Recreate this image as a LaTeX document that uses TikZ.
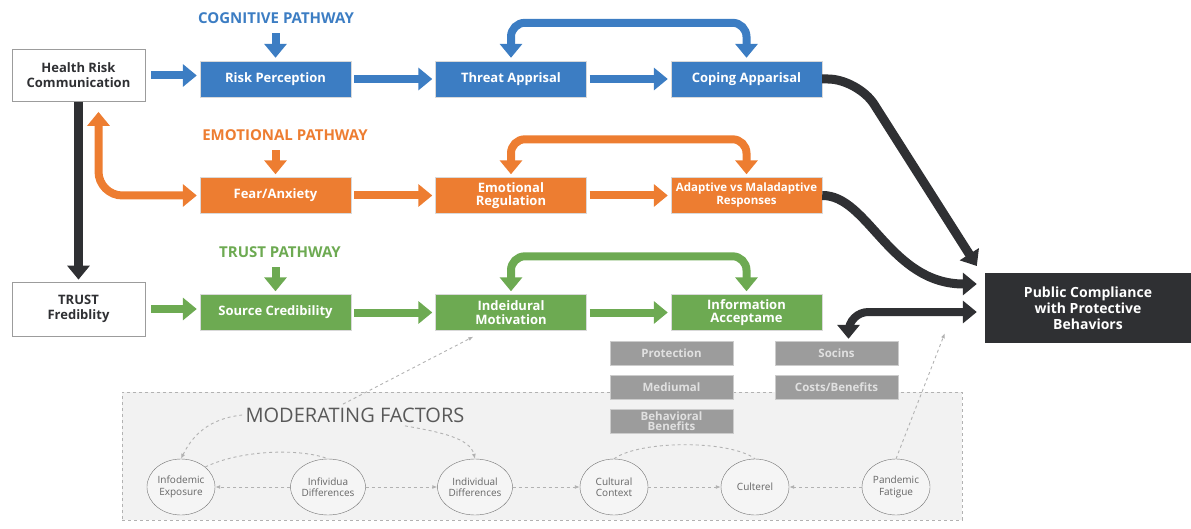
\documentclass[tikz,border=0pt]{standalone}
\usepackage{fontspec}
\setmainfont{Open Sans}
\usepackage{tikz}
\usetikzlibrary{arrows.meta,positioning,shapes.geometric,calc}

\definecolor{cogcolor}{HTML}{3C7DC3}
\definecolor{emocolor}{HTML}{ED7D31}
\definecolor{trucolor}{HTML}{6DAA52}
\definecolor{darkcolor}{HTML}{2F3033}
\definecolor{greycolor}{HTML}{9C9C9C}

\begin{document}
\begin{tikzpicture}[x=1pt,y=-1pt]
    % Styles
    \tikzstyle{input box}=[draw=greycolor,fill=white,text=darkcolor,line width=0.8pt,
      minimum width=133pt,minimum height=52pt,align=center,
      font=\fontsize{13}{15}\selectfont\bfseries]
    \tikzstyle{path box}=[draw=black!15,text=white,minimum width=151pt,minimum height=36pt,
      align=center,inner sep=1pt,font=\fontsize{13}{13.5}\selectfont\bfseries]
    \tikzstyle{path label}=[font=\fontsize{15}{17}\selectfont\bfseries]
    \tikzstyle{grey box}=[fill=greycolor,draw=black!20,text=white!88!black,minimum width=123pt,
      minimum height=24pt,align=center,inner sep=0pt,font=\fontsize{11.5}{10}\selectfont\bfseries]
    \tikzstyle{factor}=[ellipse,draw=black!55,fill=white!96!black,minimum width=68pt,minimum height=56pt,
      inner sep=0pt,align=center,text=black!60,font=\fontsize{10}{11.5}\selectfont]
    \tikzstyle{fat arrow}=[line width=8pt,-{Triangle[width=22pt,length=14pt]}]
    \tikzstyle{fat both}=[line width=8pt,{Triangle[width=22pt,length=14pt]}-{Triangle[width=22pt,length=14pt]}]
    \tikzstyle{mod arrow}=[black!30,dashed,line width=0.9pt,-{Latex[length=5pt,width=4pt]}]
    \tikzstyle{mod line}=[black!30,dashed,line width=0.9pt]

    \useasboundingbox (0,0) rectangle (1191,529);

    % Moderating factors panel
    \node (modbox) [draw=black!30,dashed,fill=black!5,minimum width=840pt,minimum height=128pt] at (542,456) {};
    \node (modlabel) [text=black!65,font=\fontsize{20}{22}\selectfont] at (355,415) {MODERATING FACTORS};

    \node (infodemic) [factor] at (181,487) {Infodemic\\Exposure};
    \node (infividua) [factor] at (328,487) {Infividua\\Differences};
    \node (indiv)     [factor] at (475,487) {Individual\\Differences};
    \node (cultural)  [factor] at (614,487) {Cultural\\Context};
    \node (culterel)  [factor] at (755,487) {Culterel};
    \node (pandemic)  [factor] at (896,487) {Pandemic\\Fatigue};

    % Inputs and outcome
    \node (hrc)   [input box] at (78.5,75.5) {Health Risk\\Communication};
    \node (trust) [input box,minimum height=54pt] at (78.5,309) {TRUST\\Frediblity};
    \node (pub)   [fill=darkcolor,text=white,minimum width=206pt,minimum height=70pt,align=center,
                   font=\fontsize{14}{16}\selectfont\bfseries] at (1088,308)
                  {Public Compliance\\with Protective\\Behaviors};

    % Pathway labels
    \node (coglabel) [path label,text=cogcolor] at (276,18)  {COGNITIVE PATHWAY};
    \node (emolabel) [path label,text=emocolor] at (285,135) {EMOTIONAL PATHWAY};
    \node (trulabel) [path label,text=trucolor] at (280,252) {TRUST PATHWAY};

    % Cognitive row
    \node (rp) [path box,fill=cogcolor] at (275.5,79) {Risk Perception};
    \node (ta) [path box,fill=cogcolor] at (511,79)   {Threat Apprisal};
    \node (ca) [path box,fill=cogcolor] at (746.5,79) {Coping Apparisal};

    % Emotional row
    \node (fa) [path box,fill=emocolor] at (275.5,195.5) {Fear/Anxiety};
    \node (er) [path box,fill=emocolor] at (511,195.5)   {Emotional\\Regulation};
    \node (ad) [path box,fill=emocolor,inner sep=0pt,font=\fontsize{11.5}{13}\selectfont\bfseries]
               at (746.5,195.5) {Adaptive vs Maladaptive\\Responses};

    % Trust row
    \node (sc) [path box,fill=trucolor] at (275.5,312.5) {Source Credibility};
    \node (im) [path box,fill=trucolor] at (511,312.5)   {Indeidural\\Motivation};
    \node (ia) [path box,fill=trucolor] at (746.5,312.5) {Information\\Acceptame};

    % Benefit boxes
    \node (prot) [grey box] at (671.5,353)   {Protection};
    \node (med)  [grey box] at (671.5,387)   {Mediumal};
    \node (beh)  [grey box] at (671.5,421.5) {Behavioral\\Benefits};
    \node (soc)  [grey box] at (836.5,353)   {Socins};
    \node (cost) [grey box] at (836.5,387)   {Costs/Benefits};

    % Row arrows
    \draw[fat arrow,cogcolor,shorten <=6pt,shorten >=3pt] (hrc.east) -- (hrc.east -| rp.west);
    \draw[fat arrow,cogcolor,shorten <=3pt,shorten >=3pt] (rp) -- (ta);
    \draw[fat arrow,cogcolor,shorten <=3pt,shorten >=3pt] (ta) -- (ca);
    \draw[fat arrow,emocolor,shorten <=3pt,shorten >=3pt] (fa) -- (er);
    \draw[fat arrow,emocolor,shorten <=3pt,shorten >=3pt] (er) -- (ad);
    \draw[fat arrow,trucolor,shorten <=6pt,shorten >=3pt] (trust.east) -- (trust.east -| sc.west);
    \draw[fat arrow,trucolor,shorten <=3pt,shorten >=3pt] (sc) -- (im);
    \draw[fat arrow,trucolor,shorten <=3pt,shorten >=3pt] (im) -- (ia);

    % Pathway entries
    \draw[fat arrow,cogcolor,shorten <=6pt,shorten >=3pt] (coglabel.south -| rp.north) -- (rp.north);
    \draw[fat arrow,emocolor,shorten <=6pt,shorten >=3pt] (emolabel.south -| fa.north) -- (fa.north);
    \draw[fat arrow,trucolor,shorten <=6pt,shorten >=3pt] (trulabel.south -| sc.north) -- (sc.north);

    % Feedback loops
    \draw[fat both,cogcolor,rounded corners=14pt,shorten <=3pt,shorten >=3pt] (ta.north) -- ++(0,-38) -| (ca.north);
    \draw[fat both,emocolor,rounded corners=14pt,shorten <=3pt,shorten >=3pt] (er.north) -- ++(0,-38) -| (ad.north);
    \draw[fat both,trucolor,rounded corners=14pt,shorten <=3pt,shorten >=3pt] (im.north) -- ++(0,-38) -| (ia.north);

    % Links from the inputs
    \draw[fat arrow,darkcolor,line width=9pt,shorten >=2pt] (hrc.south) -- (trust.north);
    \draw[fat both,emocolor,rounded corners=24pt,shorten >=3pt] ($(hrc.south)+(20,10)$) |- (fa.west);

    % Links to the outcome
    \coordinate (pubtop) at ($(pub.west)+(-8,-42)$);
    \coordinate (pubmid) at ($(pub.west)+(-8,-24)$);
    \coordinate (publow) at ($(pub.west)+(-8,4)$);
    \draw[fat arrow,darkcolor,line width=9pt,rounded corners=30pt] (ca.east) -- (858,79) -- (pubtop);
    \draw[fat arrow,darkcolor,line width=9pt] (ad.east) .. controls (868,195) and (890,284) .. (pubmid);
    \draw[fat both,darkcolor,line width=8pt,rounded corners=20pt,shorten >=2pt] (publow) -| ([xshift=12pt]soc.north);

    % Moderating links
    \coordinate (fatiguetip) at ($(pub.south west)+(-40,-10)$);
    \draw[mod arrow] (infividua) -- (infodemic);
    \draw[mod arrow] (infividua) -- (indiv);
    \draw[mod arrow] (indiv) -- (cultural);
    \draw[mod arrow] (cultural) -- (culterel);
    \draw[mod arrow] (pandemic) -- (culterel);
    \draw[mod arrow] (pandemic.north) -- (fatiguetip);
    \draw[mod arrow] ([xshift=-12pt]modlabel.north) -- ($(im.south west)+(38,6)$);
    \draw[mod arrow,{Latex[length=5pt,width=4pt]}-] (infodemic.north) .. controls (195,430) and (215,418) .. (modlabel.west);
    \draw[mod arrow] ([xshift=50pt]modlabel.south) .. controls (440,432) and (470,438) .. (indiv.north);
    \draw[mod line] (infodemic.north east) .. controls (240,450) and (300,448) .. (infividua.north);
    \draw[mod line] (cultural.north) .. controls (640,440) and (730,440) .. (culterel.north);
\end{tikzpicture}
\end{document}
